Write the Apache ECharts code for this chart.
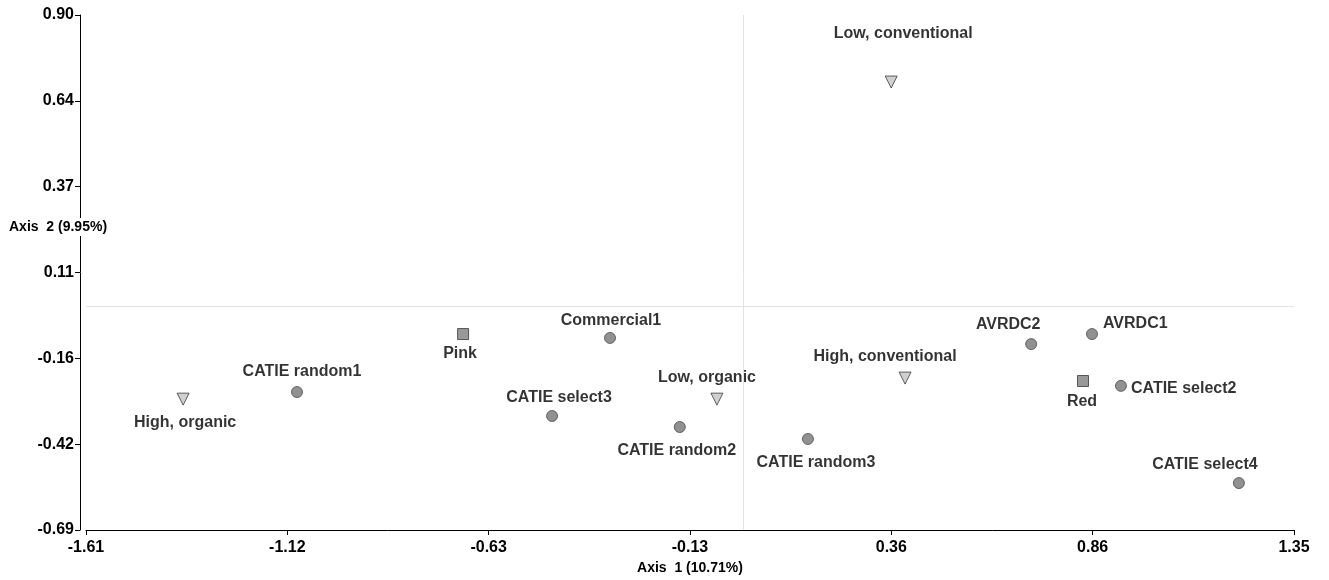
<!DOCTYPE html>
<html>
<head>
<meta charset="utf-8">
<script src="https://cdn.jsdelivr.net/npm/echarts@6/dist/echarts.min.js"></script>
<style>
html,body{margin:0;padding:0;background:#fff;}
#chart{width:1329px;height:580px;}
</style>
</head>
<body>
<div id="chart"></div>
<script>
// ---- data ----
const xTickValues = [-1.61, -1.116667, -0.623333, -0.13, 0.363333, 0.856667, 1.35];
const xTickLabels = ["-1.61", "-1.12", "-0.63", "-0.13", "0.36", "0.86", "1.35"];
const yTickValues = [-0.69, -0.425, -0.16, 0.105, 0.37, 0.635, 0.90];
const yTickLabels = ["-0.69", "-0.42", "-0.16", "0.11", "0.37", "0.64", "0.90"];

const treatmentNames = ["Low, conventional", "High, organic", "Low, organic", "High, conventional"];
const treatmentX = [0.363, -1.372, -0.064, 0.397];
const treatmentY = [0.693, -0.286, -0.286, -0.221];

const colourNames = ["Pink", "Red"];
const colourX = [-0.686, 0.833];
const colourY = [-0.085, -0.230];

const lineNames = ["Commercial1", "CATIE random1", "CATIE select3", "CATIE random2", "CATIE random3", "AVRDC2", "AVRDC1", "CATIE select2", "CATIE select4"];
const lineX = [-0.326, -1.093, -0.468, -0.155, 0.159, 0.706, 0.855, 0.926, 1.215];
const lineY = [-0.097, -0.264, -0.338, -0.372, -0.409, -0.116, -0.085, -0.245, -0.545];

// ---- label placement (style) ----
const labelPlace = {
  "Low, conventional": {position: 'top', offset: [12, -29]},
  "High, organic": {position: 'bottom', offset: [2, 4]},
  "Low, organic": {position: 'top', offset: [-10, -2]},
  "High, conventional": {position: 'top', offset: [-20, -2]},
  "Pink": {position: 'bottom', offset: [-3, 1]},
  "Red": {position: 'bottom', offset: [-1, 2]},
  "Commercial1": {position: 'top', offset: [1, 2]},
  "CATIE random1": {position: 'top', offset: [5, -1]},
  "CATIE select3": {position: 'top', offset: [7, 1]},
  "CATIE random2": {position: 'bottom', offset: [-3, 5]},
  "CATIE random3": {position: 'bottom', offset: [8, 5]},
  "AVRDC2": {position: 'top', offset: [-23, 0]},
  "AVRDC1": {position: 'right', offset: [0, -10]},
  "CATIE select2": {position: 'right', offset: [-1, 3]},
  "CATIE select4": {position: 'top', offset: [-34, 1]}
};

function build(names, xs, ys) {
  return names.map((n, i) => ({
    name: n,
    value: [xs[i], ys[i]],
    label: Object.assign({show: true, formatter: n}, labelPlace[n])
  }));
}

const FONT = '"Liberation Sans", Arial, sans-serif';
const labelStyle = {color: '#000', fontFamily: FONT, fontWeight: 'bold', fontSize: 16};

const chart = echarts.init(document.getElementById('chart'), null, {renderer: 'canvas'});
chart.setOption({
  animation: false,
  backgroundColor: '#fff',
  grid: {left: 86, right: 35, top: 15, bottom: 50, containLabel: false, outerBoundsMode: 'none'},
  xAxis: {
    type: 'value', min: -1.61, max: 1.35,
    name: 'Axis  1 (10.71%)', nameLocation: 'middle', nameGap: 31,
    nameTextStyle: {color: '#000', fontFamily: FONT, fontWeight: 'bold', fontSize: 14},
    splitLine: {show: false},
    axisLine: {show: true, onZero: false, lineStyle: {color: '#000', width: 1}},
    axisTick: {show: true, length: 5, customValues: xTickValues, lineStyle: {color: '#000'}},
    axisLabel: {
      customValues: xTickValues,
      color: '#000', fontFamily: FONT, fontWeight: 'bold', fontSize: 16,
      margin: 10,
      formatter: (v) => { const i = xTickValues.findIndex(t => Math.abs(t - v) < 1e-4); return i >= 0 ? xTickLabels[i] : ''; }
    }
  },
  yAxis: {
    type: 'value', min: -0.69, max: 0.90, offset: 6,
    splitLine: {show: false},
    axisLine: {show: true, onZero: false, lineStyle: {color: '#000', width: 1}},
    axisTick: {show: true, length: 5, customValues: yTickValues, lineStyle: {color: '#000'}},
    axisLabel: {
      customValues: yTickValues,
      color: '#000', fontFamily: FONT, fontWeight: 'bold', fontSize: 16,
      margin: 6,
      formatter: (v) => { const i = yTickValues.findIndex(t => Math.abs(t - v) < 1e-4); return i >= 0 ? yTickLabels[i] : ''; }
    }
  },
  graphic: [{
    type: 'text', left: 9, top: 218, z: 100,
    style: {
      text: 'Axis  2 (9.95%)', fill: '#000',
      font: 'bold 14px "Liberation Sans", Arial, sans-serif',
      backgroundColor: '#fff', padding: [2, 0, 2, 0]
    }
  }],
  series: [
    {
      name: 'ref', type: 'scatter', data: [], silent: true,
      markLine: {
        silent: true, symbol: 'none', label: {show: false},
        lineStyle: {color: '#e2e2e2', width: 1, type: 'solid'},
        data: [{xAxis: 0}, {yAxis: 0}]
      }
    },
    {
      name: 'treatments', type: 'scatter', symbol: 'path://M0,0L12,0L6,12Z', symbolSize: [12, 12],
      itemStyle: {color: '#c4c4c4', borderColor: '#3a3a3a', borderWidth: 1},
      label: labelStyle,
      data: build(treatmentNames, treatmentX, treatmentY)
    },
    {
      name: 'colours', type: 'scatter', symbol: 'rect', symbolSize: 11,
      itemStyle: {color: '#7f7f7f', borderColor: '#3a3a3a', borderWidth: 1},
      label: labelStyle,
      data: build(colourNames, colourX, colourY)
    },
    {
      name: 'lines', type: 'scatter', symbol: 'circle', symbolSize: 11,
      itemStyle: {color: '#767676', borderColor: '#4a4a4a', borderWidth: 1},
      label: labelStyle,
      data: build(lineNames, lineX, lineY)
    }
  ]
});
</script>
</body>
</html>
